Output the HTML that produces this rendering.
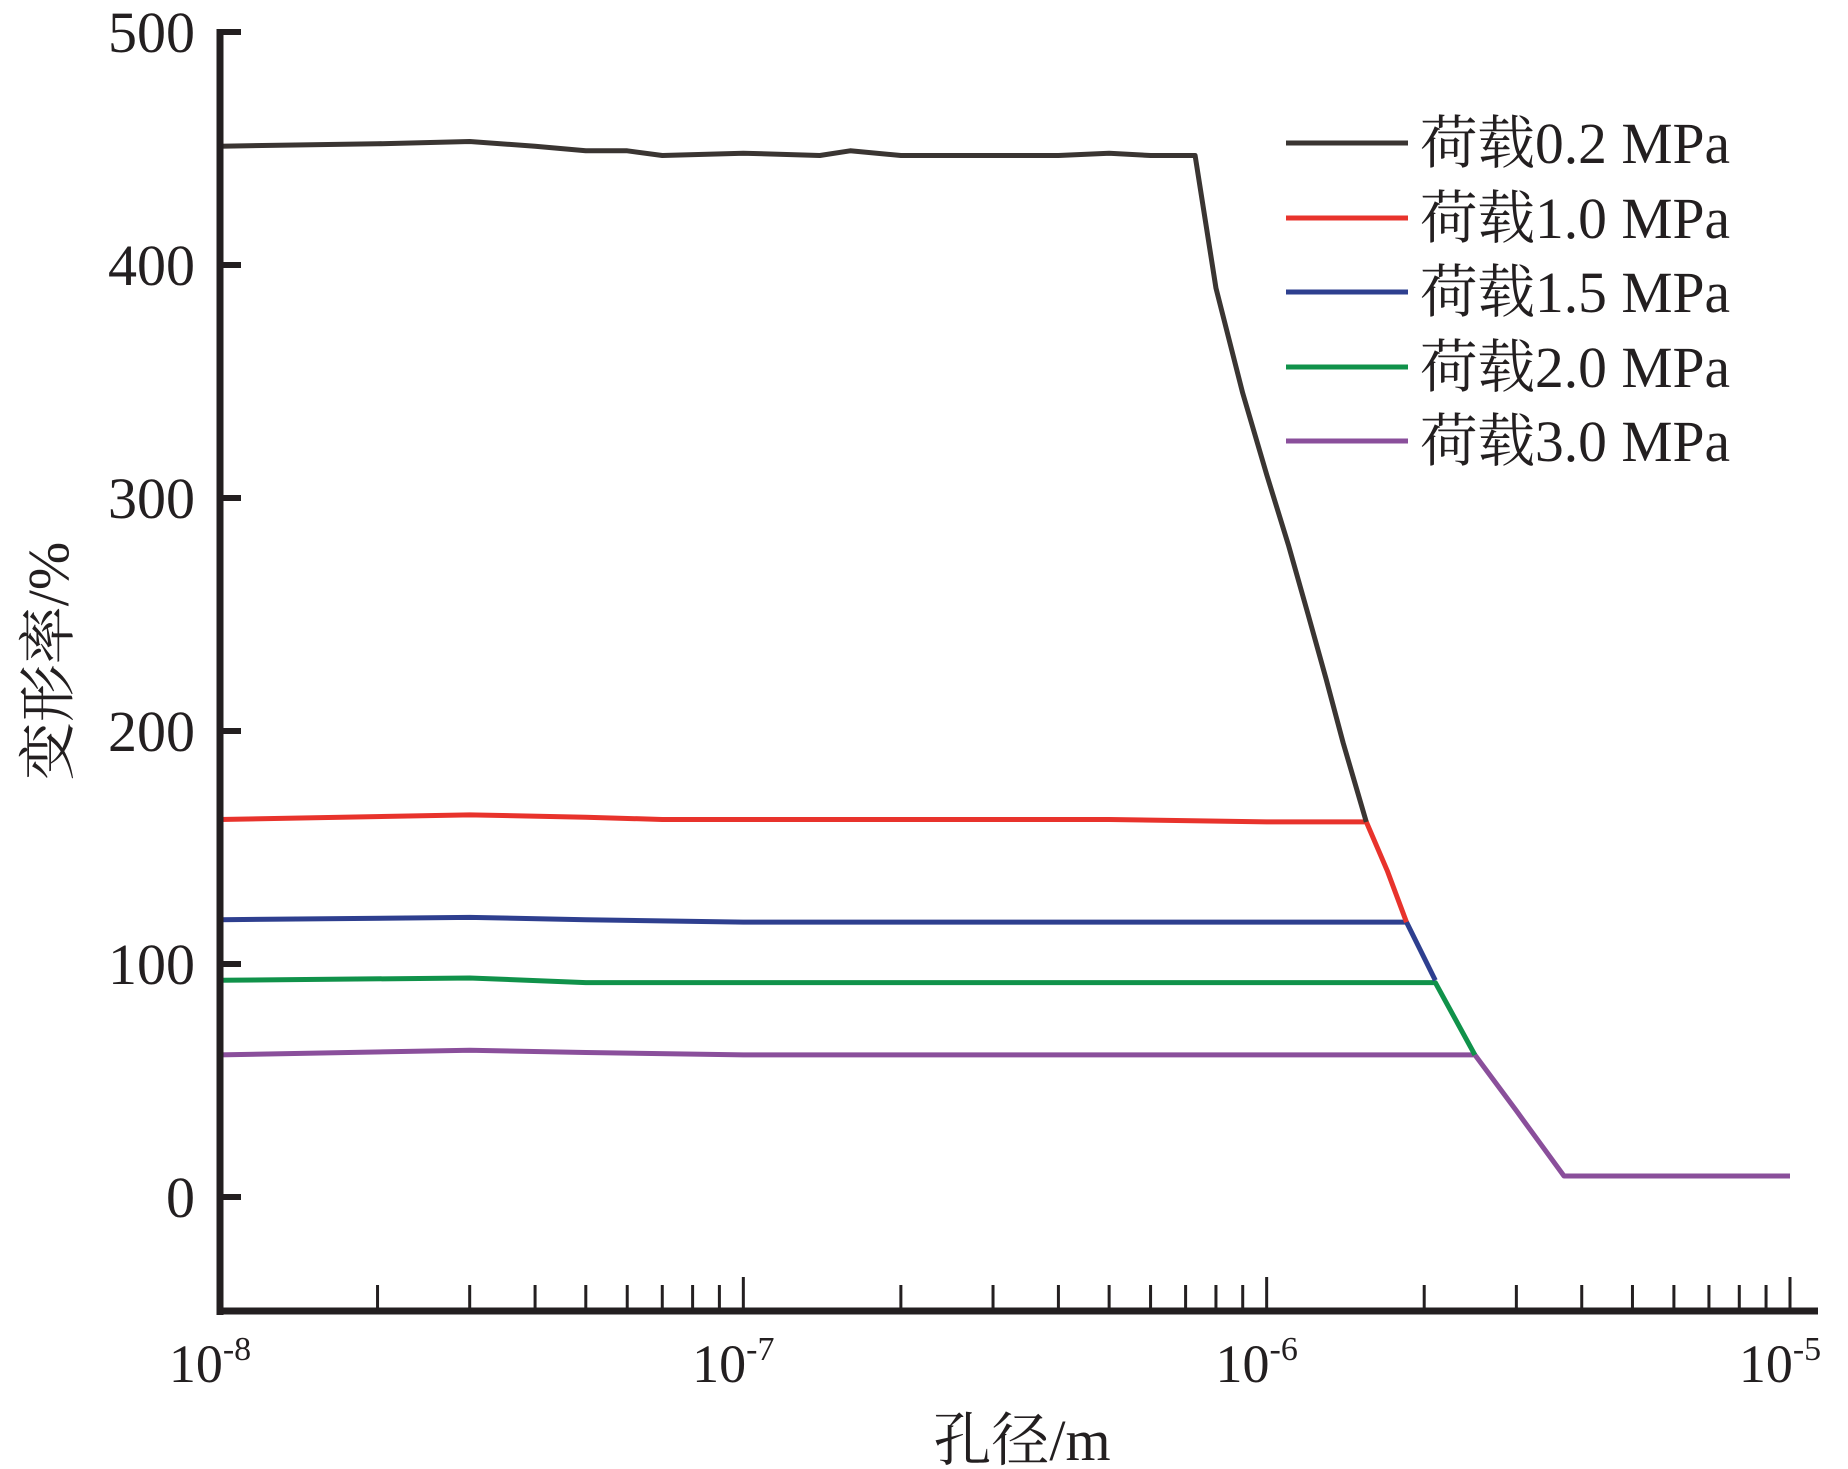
<!DOCTYPE html>
<html><head><meta charset="utf-8"><style>
html,body{margin:0;padding:0;background:#fff;}
svg{display:block;}
text{font-family:"Liberation Serif","Noto Serif CJK SC",serif;fill:#231f20;}
</style></head><body>
<svg id="chart" width="1848" height="1469" viewBox="0 0 1848 1469" xmlns="http://www.w3.org/2000/svg">
<g id="plot"></g>
<g id="axes"></g>
<g id="legend"></g>
</svg>
<script>
// ---- data ----
const yTicks = [0, 100, 200, 300, 400, 500];
const xTickExps = [-8, -7, -6, -5];
const seriesNames = ["荷载0.2 MPa", "荷载1.0 MPa", "荷载1.5 MPa", "荷载2.0 MPa", "荷载3.0 MPa"];
const seriesColors = ["#3a3532", "#e8332c", "#2e3f8f", "#10924a", "#8a4f9b"];
const xs0 = [1e-8, 2e-8, 3e-8, 4e-8, 5e-8, 6e-8, 7e-8, 1e-7, 1.4e-7, 1.6e-7, 2e-7, 3e-7, 4e-7, 5e-7, 6e-7, 7.3e-7, 8e-7, 9e-7, 1e-6, 1.1e-6, 1.2e-6, 1.3e-6, 1.4e-6, 1.55e-6];
const ys0 = [451, 452, 453, 451, 449, 449, 447, 448, 447, 449, 447, 447, 447, 448, 447, 447, 390, 345, 310, 280, 250, 222, 195, 161];
const xs1 = [1e-8, 3e-8, 5e-8, 7e-8, 1e-7, 2e-7, 5e-7, 1e-6, 1.55e-6, 1.7e-6, 1.85e-6];
const ys1 = [162, 164, 163, 162, 162, 162, 162, 161, 161, 140, 118];
const xs2 = [1e-8, 3e-8, 5e-8, 1e-7, 2e-7, 5e-7, 1e-6, 1.85e-6, 2.1e-6];
const ys2 = [119, 120, 119, 118, 118, 118, 118, 118, 93];
const xs3 = [1e-8, 3e-8, 5e-8, 1e-7, 2e-7, 5e-7, 1e-6, 2.1e-6, 2.5e-6];
const ys3 = [93, 94, 92, 92, 92, 92, 92, 92, 61];
const xs4 = [1e-8, 3e-8, 5e-8, 1e-7, 2e-7, 5e-7, 1e-6, 2.5e-6, 3e-6, 3.7e-6, 1e-5];
const ys4 = [61, 63, 62, 61, 61, 61, 61, 61, 37, 9, 9];
const seriesX = [xs0, xs1, xs2, xs3, xs4];
const seriesY = [ys0, ys1, ys2, ys3, ys4];

// ---- scales ----
const X0 = 220, X1 = 1790, Y0 = 1197, PX100 = 233;
function xScale(v){ return X0 + (Math.log10(v) + 8) / 3 * (X1 - X0); }
function yScale(v){ return Y0 - v / 100 * PX100; }
const NS = "http://www.w3.org/2000/svg";
function mk(tag, attrs, parent){ const e = document.createElementNS(NS, tag); for (const k in attrs) e.setAttribute(k, attrs[k]); parent.appendChild(e); return e; }

const plot = document.getElementById('plot');
const axes = document.getElementById('axes');
const legend = document.getElementById('legend');

// series (draw purple first so upper ones overlay)
for (let i = seriesX.length - 1; i >= 0; i--) {
  const pts = seriesX[i].map((x, j) => xScale(x).toFixed(1) + ',' + yScale(seriesY[i][j]).toFixed(1)).join(' ');
  const pl = mk('polyline', {points: pts, fill: 'none', stroke: seriesColors[i], 'stroke-width': 5, 'stroke-linejoin': 'round'}, plot);
  
  
}

// axes
const yAxis = mk('line', {x1: 220, y1: 29, x2: 220, y2: 1315, stroke: '#231f20', 'stroke-width': 7}, axes);


const xAxis = mk('line', {x1: 217, y1: 1311, x2: 1818, y2: 1311, stroke: '#231f20', 'stroke-width': 7}, axes);



yTicks.forEach(v => {
  const y = yScale(v);
  const t = mk('line', {x1: 220, y1: y, x2: 241, y2: y, stroke: '#231f20', 'stroke-width': 6}, axes);
  
  
  const lb = mk('text', {x: 195, y: y + 20, 'text-anchor': 'end', 'font-size': 58}, axes);
  
  
  lb.textContent = v;
});

xTickExps.forEach((e, k) => {
  const x = xScale(Math.pow(10, e));
  const t = mk('line', {x1: x, y1: 1311, x2: x, y2: 1277, stroke: '#231f20', 'stroke-width': 3}, axes);
  
  
  const lb = mk('text', {x: x - 10, y: 1382, 'text-anchor': 'middle', 'font-size': 54}, axes);
  
  
  lb.textContent = '10';
  const sp = mk('tspan', {dy: -22, 'font-size': 34}, lb);
  sp.textContent = String(e).replace('-', '-');
  if (k < xTickExps.length - 1) {
    for (let m = 2; m <= 9; m++) {
      const xm = xScale(m * Math.pow(10, e));
      const mt = mk('line', {x1: xm, y1: 1311, x2: xm, y2: 1285, stroke: '#231f20', 'stroke-width': 3}, axes);
      
      
    }
  }
});

const xt = mk('text', {x: 1022, y: 1460, 'text-anchor': 'middle', 'font-size': 58}, axes);


xt.textContent = '孔径/m';
const yt = mk('text', {x: 0, y: 0, 'text-anchor': 'middle', 'font-size': 58, transform: 'translate(68,661) rotate(-90)'}, axes);


yt.textContent = '变形率/%';

// legend
const legY = [143, 218, 292, 367, 441];
seriesNames.forEach((n, i) => {
  const g = mk('g', {}, legend);
  
  
  mk('line', {x1: 1286, y1: legY[i], x2: 1408, y2: legY[i], stroke: seriesColors[i], 'stroke-width': 5}, g);
  const tx = mk('text', {x: 1420, y: legY[i] + 20, 'font-size': 58, textLength: 310, lengthAdjust: 'spacingAndGlyphs'}, g);
  tx.textContent = n;
});
</script>
</body></html>
